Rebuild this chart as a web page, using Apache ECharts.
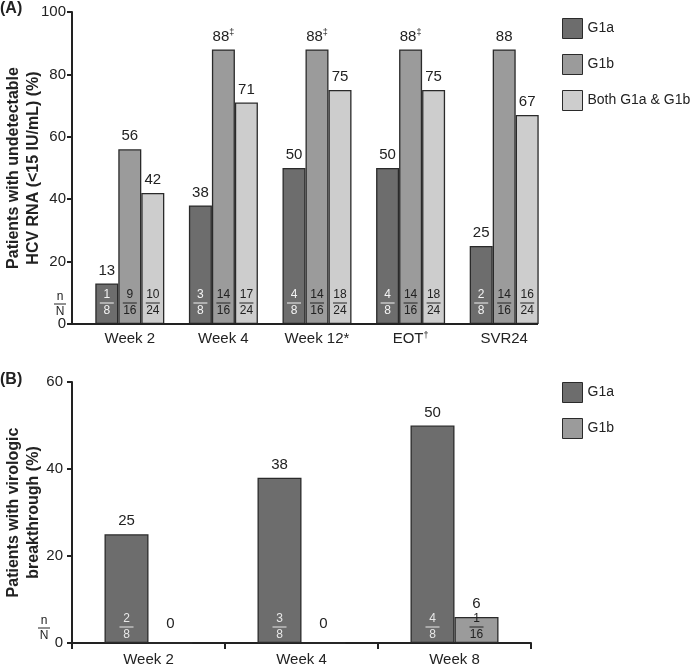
<!DOCTYPE html>
<html><head><meta charset="utf-8">
<script src="https://cdn.jsdelivr.net/npm/echarts@6/dist/echarts.min.js"></script>
<style>html,body{margin:0;padding:0;background:#fff}#c{width:700px;height:665px}</style>
</head><body><div id="c"></div>
<script>
// ---- Panel A data ----
const catsA = ['Week 2', 'Week 4', 'Week 12*', 'EOT†', 'SVR24'];
const g1aA = [13, 38, 50, 50, 25];
const g1bA = [56, 88, 88, 88, 88];
const bothA = [42, 71, 75, 75, 67];
const g1bNotesA = ['', '‡', '‡', '‡', ''];
const g1aFracA = ['1/8', '3/8', '4/8', '4/8', '2/8'];
const g1bFracA = ['9/16', '14/16', '14/16', '14/16', '14/16'];
const bothFracA = ['10/24', '17/24', '18/24', '18/24', '16/24'];
const yTicksA = [0, 20, 40, 60, 80, 100];

// ---- Panel B data ----
const catsB = ['Week 2', 'Week 4', 'Week 8'];
const g1aB = [25, 38, 50];
const g1bB = [0, 0, 6];
const g1aFracB = ['2/8', '3/8', '4/8'];
const g1bFracB = ['', '', '1/16'];
const yTicksB = [0, 20, 40, 60];

const seriesNames = ['G1a', 'G1b', 'Both G1a & G1b'];
const colors = ['#6d6d6d', '#9b9b9b', '#cdcdcd'];
const ink = '#222';
const FONT = '"Liberation Sans", Arial, sans-serif';

const chart = echarts.init(document.getElementById('c'), null, {renderer: 'canvas'});

function fracRich(color) {
  return {
    n: {fontSize: 12, lineHeight: 12, color: color, align: 'center', fontFamily: FONT},
    l: {width: 14, height: 1, lineHeight: 4, fontSize: 1, backgroundColor: color, align: 'center'},
    d: {fontSize: 12, lineHeight: 12, color: color, align: 'center', fontFamily: FONT}
  };
}
function fracText(f) {
  if (!f) return '';
  const p = f.split('/');
  return '{n|' + p[0] + '}\n{l| }\n{d|' + p[1] + '}';
}
const barStyle = (i) => ({color: colors[i], borderColor: '#2a2a2a', borderWidth: 1.3});

function mainSeries(name, data, i, xi, yi, bw, notes, zeroDist) {
  return {
    name: name, type: 'bar', xAxisIndex: xi, yAxisIndex: yi,
    barWidth: bw, barGap: '0%',
    data: data.map(v => (v === 0 ? {value: v, label: {distance: zeroDist}} : v)),
    itemStyle: barStyle(i),
    label: {
      show: true, position: 'top', distance: 5, color: ink, fontSize: 15, fontFamily: FONT,
      formatter: p => {
        const note = notes ? notes[p.dataIndex] : '';
        return '{v|' + p.value + '}' + (note ? '{s|' + note + '}' : '');
      },
      rich: {
        v: {fontSize: 15, lineHeight: 16, color: ink, fontFamily: FONT},
        s: {fontSize: 9, lineHeight: 16, color: ink, verticalAlign: 'top', fontFamily: FONT}
      }
    },
    silent: true
  };
}
function fracSeries(id, data, fr, xi, yi, bw, color, dist) {
  return {
    name: id, type: 'bar', xAxisIndex: xi, yAxisIndex: yi,
    barWidth: bw, barGap: '0%', data: data,
    itemStyle: {color: 'rgba(0,0,0,0)', borderWidth: 0},
    label: {
      show: true, position: 'insideBottom', distance: dist,
      formatter: p => fracText(fr[p.dataIndex]),
      rich: fracRich(color)
    },
    silent: true, z: 5
  };
}

const yAxisCommon = (ticks, margin) => ({
  type: 'value', min: ticks[0], max: ticks[ticks.length - 1], interval: ticks[1] - ticks[0],
  axisLine: {show: true, lineStyle: {color: ink, width: 2}},
  axisTick: {show: true, length: 5, lineStyle: {color: ink, width: 2}},
  splitLine: {show: false},
  axisLabel: {color: ink, fontSize: 15, margin: margin, fontFamily: FONT},
  nameLocation: 'middle', nameGap: 28, nameMoveOverlap: false,
  nameTextStyle: {fontWeight: 'bold', fontSize: 16, lineHeight: 20, color: ink, fontFamily: FONT}
});

const nNText = '{n|n}\n{l| }\n{d|N}';
const nNRich = {
  n: {fontSize: 12, lineHeight: 11, fill: ink, align: 'center', fontFamily: FONT},
  l: {width: 12, height: 1, lineHeight: 4, fontSize: 1, backgroundColor: ink, align: 'center'},
  d: {fontSize: 12, lineHeight: 11, fill: ink, align: 'center', fontFamily: FONT}
};

const option = {
  backgroundColor: '#fff',
  animation: false,
  textStyle: {fontFamily: FONT},
  grid: [
    {left: 83, width: 468, top: 12, height: 312, containLabel: false, outerBoundsMode: 'none'},
    {left: 72, width: 459, top: 382, height: 261, containLabel: false, outerBoundsMode: 'none'}
  ],
  xAxis: [
    {
      type: 'category', gridIndex: 0, data: catsA,
      axisLine: {show: false}, axisTick: {show: false},
      axisLabel: {
        color: ink, fontSize: 15, margin: 7, fontFamily: FONT,
        formatter: v => v.replace('†', '{s|†}'),
        rich: {s: {fontSize: 9, lineHeight: 16, verticalAlign: 'top', color: ink}}
      }
    },
    {type: 'category', gridIndex: 0, data: catsA, show: false},
    {
      type: 'category', gridIndex: 1, data: catsB,
      axisLine: {show: true, lineStyle: {color: ink, width: 2}},
      axisTick: {show: true, length: 6, lineStyle: {color: ink, width: 2}},
      axisLabel: {color: ink, fontSize: 15, margin: 9, fontFamily: FONT}
    },
    {type: 'category', gridIndex: 1, data: catsB, show: false}
  ],
  yAxis: [
    Object.assign(yAxisCommon(yTicksA, 6), {gridIndex: 0, offset: 11,
      name: 'Patients with undetectable\nHCV RNA (<15 IU/mL) (%)'}),
    Object.assign(yAxisCommon(yTicksB, 9), {gridIndex: 1,
      name: 'Patients with virologic\nbreakthrough (%)'})
  ],
  legend: [
    {
      data: seriesNames, orient: 'vertical', left: 562, top: 18, padding: 0,
      itemWidth: 20, itemHeight: 20, itemGap: 15, icon: 'rect',
      itemStyle: {borderColor: '#2a2a2a', borderWidth: 1},
      textStyle: {fontSize: 14, color: ink, fontFamily: FONT},
      selectedMode: false
    },
    {
      data: seriesNames.slice(0, 2), orient: 'vertical', left: 562, top: 382, padding: 0,
      itemWidth: 20, itemHeight: 20, itemGap: 15, icon: 'rect',
      itemStyle: {borderColor: '#2a2a2a', borderWidth: 1},
      textStyle: {fontSize: 14, color: ink, fontFamily: FONT},
      selectedMode: false
    }
  ],
  series: [
    mainSeries(seriesNames[0], g1aA, 0, 0, 0, 23, null, 5),
    mainSeries(seriesNames[1], g1bA, 1, 0, 0, 23, g1bNotesA, 5),
    mainSeries(seriesNames[2], bothA, 2, 0, 0, 23, null, 5),
    fracSeries('fA1', g1aA, g1aFracA, 1, 0, 23, '#f4f4f4', 7),
    fracSeries('fA2', g1bA, g1bFracA, 1, 0, 23, '#222', 7),
    fracSeries('fA3', bothA, bothFracA, 1, 0, 23, '#222', 7),
    mainSeries(seriesNames[0], g1aB, 0, 2, 1, 44, null, 10),
    mainSeries(seriesNames[1], g1bB, 1, 2, 1, 44, null, 10),
    fracSeries('fB1', g1aB, g1aFracB, 3, 1, 44, '#e8e8e8', 2),
    fracSeries('fB2', g1bB, g1bFracB, 3, 1, 44, '#222', 2)
  ],
  graphic: [
    {type: 'text', left: 0, top: 1, style: {text: '(A)', font: 'bold 16px ' + FONT, fill: ink}},
    {type: 'text', left: 0, top: 372, style: {text: '(B)', font: 'bold 16px ' + FONT, fill: ink}},
    {type: 'line', shape: {x1: 72, y1: 324, x2: 538, y2: 324}, style: {stroke: ink, lineWidth: 2}, z: 10},
    {type: 'text', x: 60, y: 304, style: {text: nNText, rich: nNRich, align: 'center', verticalAlign: 'middle'}},
    {type: 'text', x: 44, y: 628, style: {text: nNText, rich: nNRich, align: 'center', verticalAlign: 'middle'}}
  ]
};
chart.setOption(option);
</script>
</body></html>
